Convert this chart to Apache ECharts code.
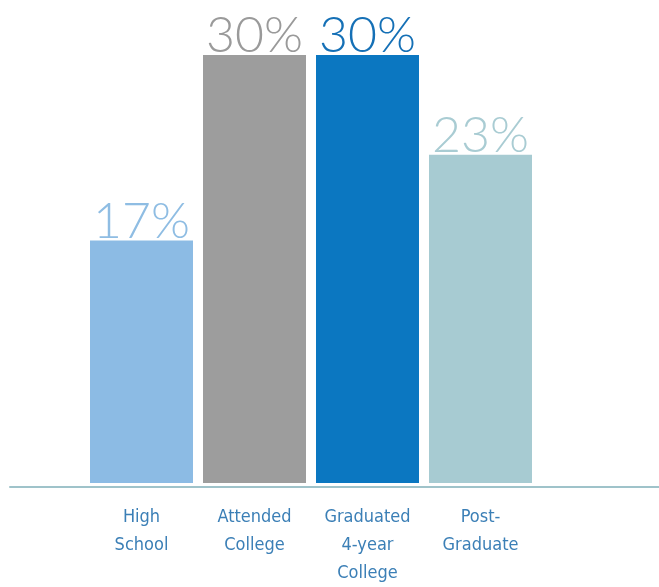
<!DOCTYPE html>
<html><head><meta charset="utf-8">
<script src="https://cdn.jsdelivr.net/npm/echarts@6/dist/echarts.min.js"></script>
<style>html,body{margin:0;padding:0;background:#fff}#c{width:659px;height:587px}</style>
</head><body><div id="c"></div>
<script>
const categories = ['High\nSchool', 'Attended\nCollege', 'Graduated\n4-year\nCollege', 'Post-\nGraduate'];
const values = [17, 30, 30, 23];
const valueLabels = ['17%', '30%', '30%', '23%'];
const barColors = ['#8cbbe4', '#9d9d9d', '#0b77c1', '#a7cbd2'];
const labelColors = ['#8fbde3', '#9a9a9a', '#1570b6', '#a9ccd3'];

const chart = echarts.init(document.getElementById('c'));
chart.setOption({
  animation: false,
  grid: [
    {left: 85, right: 122, top: 55, bottom: 103},
    {left: 10, right: 0, top: 55, bottom: 100}
  ],
  xAxis: [
    {type: 'category', gridIndex: 0, data: categories,
     axisLine: {show: false}, axisTick: {show: false},
     axisLabel: {interval: 0, hideOverlap: false, margin: 20, color: '#3b7fb6', fontSize: 18, lineHeight: 28,
       fontFamily: 'DejaVu Sans Condensed, sans-serif'}},
    {type: 'value', gridIndex: 1, min: 0, max: 1,
     axisLine: {show: true, lineStyle: {color: '#9fc3ca', width: 2}},
     axisTick: {show: false}, axisLabel: {show: false}, splitLine: {show: false}}
  ],
  yAxis: [
    {type: 'value', gridIndex: 0, min: 0, max: 30, show: false},
    {type: 'value', gridIndex: 1, show: false}
  ],
  series: [{
    type: 'bar', xAxisIndex: 0, yAxisIndex: 0, barWidth: 103,
    data: values.map((v, i) => ({value: v, itemStyle: {color: barColors[i]},
      label: {color: labelColors[i]}})),
    label: {show: true, position: 'top', distance: -6,
      formatter: p => valueLabels[p.dataIndex],
      fontSize: 50, fontWeight: 300, fontFamily: 'Lato, Open Sans, sans-serif'}
  }]
});
</script></body></html>
